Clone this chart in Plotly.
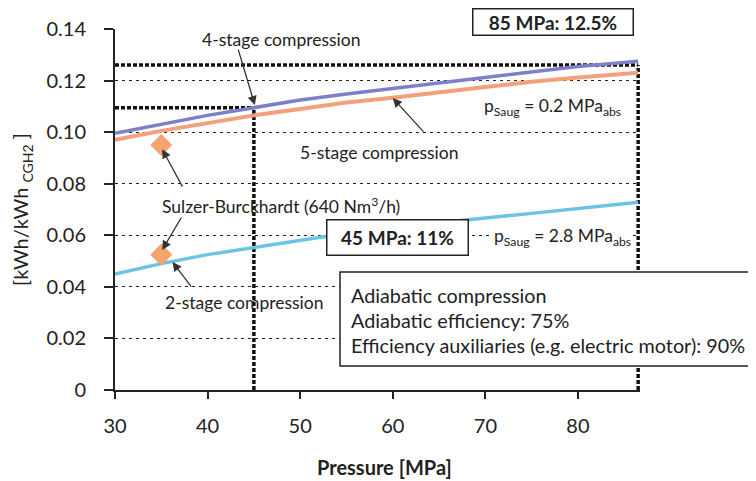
import plotly.graph_objects as go

# ---- data ----
pressure = [30, 35, 40, 45, 50, 55, 60, 65, 70, 75, 80, 86.5]
stage4 = [0.0996, 0.1030, 0.1065, 0.1095, 0.1125, 0.1148, 0.1170, 0.1190, 0.1213, 0.1235, 0.1255, 0.1275]
stage5 = [0.0970, 0.1005, 0.1035, 0.1065, 0.1090, 0.1115, 0.1133, 0.1155, 0.1175, 0.1195, 0.1212, 0.1230]
stage2 = [0.0450, 0.0490, 0.0525, 0.0553, 0.0580, 0.0608, 0.0630, 0.0650, 0.0667, 0.0685, 0.0705, 0.0728]
sulzer_x = [35, 35]
sulzer_y = [0.095, 0.0525]
x_ticks = [30, 40, 50, 60, 70, 80]
y_ticks = [0, 0.02, 0.04, 0.06, 0.08, 0.10, 0.12, 0.14]
y_tick_labels = ["0", "0.02", "0.04", "0.06", "0.08", "0.10", "0.12", "0.14"]
ref_45 = (45, 0.1095)
ref_85 = (86.5, 0.126)

FONT = "Lato"
fig = go.Figure()

fig.add_trace(go.Scatter(x=pressure, y=stage5, mode="lines",
                         line=dict(color="#f4a07c", width=4), showlegend=False))
fig.add_trace(go.Scatter(x=pressure, y=stage4, mode="lines",
                         line=dict(color="#7d80c8", width=3.5), showlegend=False))
fig.add_trace(go.Scatter(x=pressure, y=stage2, mode="lines",
                         line=dict(color="#6cc3e3", width=3.5), showlegend=False))
fig.add_trace(go.Scatter(x=sulzer_x, y=sulzer_y, mode="markers",
                         marker=dict(symbol="diamond", size=17, color="#f5a36f"),
                         showlegend=False))

bold = dict(color="#111111", width=3.5, dash="4px,2px")
fig.add_shape(type="line", x0=30, x1=ref_85[0], y0=ref_85[1], y1=ref_85[1], line=bold, layer="below")
fig.add_shape(type="line", x0=ref_85[0], x1=ref_85[0], y0=0, y1=ref_85[1], line=bold, layer="below")
fig.add_shape(type="line", x0=30, x1=ref_45[0], y0=ref_45[1], y1=ref_45[1], line=bold, layer="below")
fig.add_shape(type="line", x0=ref_45[0], x1=ref_45[0], y0=0, y1=ref_45[1], line=bold, layer="below")

# info box
fig.add_shape(type="rect", xref="paper", yref="paper", x0=0.4286, x1=1.4, y0=0.0665, y1=0.327,
              fillcolor="white", line=dict(color="#222", width=1.5), layer="above")
info = ["Adiabatic compression", "Adiabatic efficiency: 75%",
        "Efficiency auxiliaries (e.g. electric motor): 90%"]
for i, t in enumerate(info):
    fig.add_annotation(x=55.3, y=0.0369 - i * 0.0097, text=t, showarrow=False,
                       xanchor="left", yanchor="middle", font=dict(size=19.8, color="#222"))

txt = dict(size=17.5, color="#222")
fig.add_annotation(x=48.0, y=0.136, text="4-stage compression", showarrow=False, font=txt)
fig.add_annotation(x=58.6, y=0.0922, text="5-stage compression", showarrow=False, font=txt)
fig.add_annotation(x=47.9, y=0.0717, text="Sulzer-Burckhardt (640 Nm<sup>3</sup>/h)", showarrow=False, font=txt)
fig.add_annotation(x=44.0, y=0.0341, text="2-stage compression", showarrow=False, font=txt)

fig.add_annotation(x=77.3, y=0.1097, text="p<sub>Saug</sub> = 0.2 MPa<sub>abs</sub>", showarrow=False, font=txt)
fig.add_annotation(x=78.3, y=0.0593, text="p<sub>Saug</sub> = 2.8 MPa<sub>abs</sub>", showarrow=False,
                   font=txt, bgcolor="white")

box = dict(size=19, color="#222", family=FONT)
fig.add_annotation(x=77.3, y=1.019, yref="paper", xanchor="center", yanchor="middle",
                   text="<b>85 MPa: 12.5%</b>", showarrow=False, font=box,
                   bgcolor="white", bordercolor="#222", borderwidth=1.5, width=157, height=23, borderpad=1)
fig.add_annotation(x=60.5, y=0.0593, xanchor="center", yanchor="middle",
                   text="<b>45 MPa: 11%</b>", showarrow=False, font=box,
                   bgcolor="white", bordercolor="#222", borderwidth=1.5, width=138, height=32, borderpad=1)

arrows = [(45.1, 0.1105, -17, -57), (60.0, 0.1132, 32, 35), (35.1, 0.0934, 21, 39),
          (35.1, 0.0543, 20, -34), (36.2, 0.0496, 20, 26)]
for x, y, ax, ay in arrows:
    fig.add_annotation(x=x, y=y, ax=ax, ay=ay, text="", showarrow=True, arrowhead=2,
                       arrowsize=1.4, arrowwidth=1.3, arrowcolor="#333")

# x-axis title
fig.add_annotation(x=0.514, y=-0.213, xref="paper", yref="paper", xanchor="center", yanchor="middle",
                   text="<b>Pressure [MPa]</b>", showarrow=False, font=dict(size=20, color="#222"))

fig.update_layout(
    width=748, height=473,
    margin=dict(l=107, r=116, t=21, b=91, autoexpand=False),
    paper_bgcolor="white", plot_bgcolor="white",
    font=dict(family=FONT, color="#222"),
    xaxis=dict(range=[30, 86.7], tickvals=x_ticks, showgrid=False, zeroline=False,
               automargin=False,
               showline=True, linecolor="#222", linewidth=2, ticks="outside", ticklen=7,
               tickwidth=1.5, tickcolor="#222", tickfont=dict(size=20), ticklabelstandoff=10),
    yaxis=dict(range=[0, 0.14], tickvals=y_ticks, ticktext=y_tick_labels,
               automargin=False,
               showgrid=True, gridcolor="#222", gridwidth=1.3, griddash="3px,4px",
               zeroline=False, showline=True, linecolor="#222", linewidth=2,
               ticks="outside", ticklen=9, tickwidth=1.5, tickcolor="#222",
               tickfont=dict(size=20), ticklabelstandoff=14,
               title=dict(text="[kWh/kWh <sub>CGH2</sub> ]", font=dict(size=20), standoff=12)),
)

fig.write_html("out.html")
